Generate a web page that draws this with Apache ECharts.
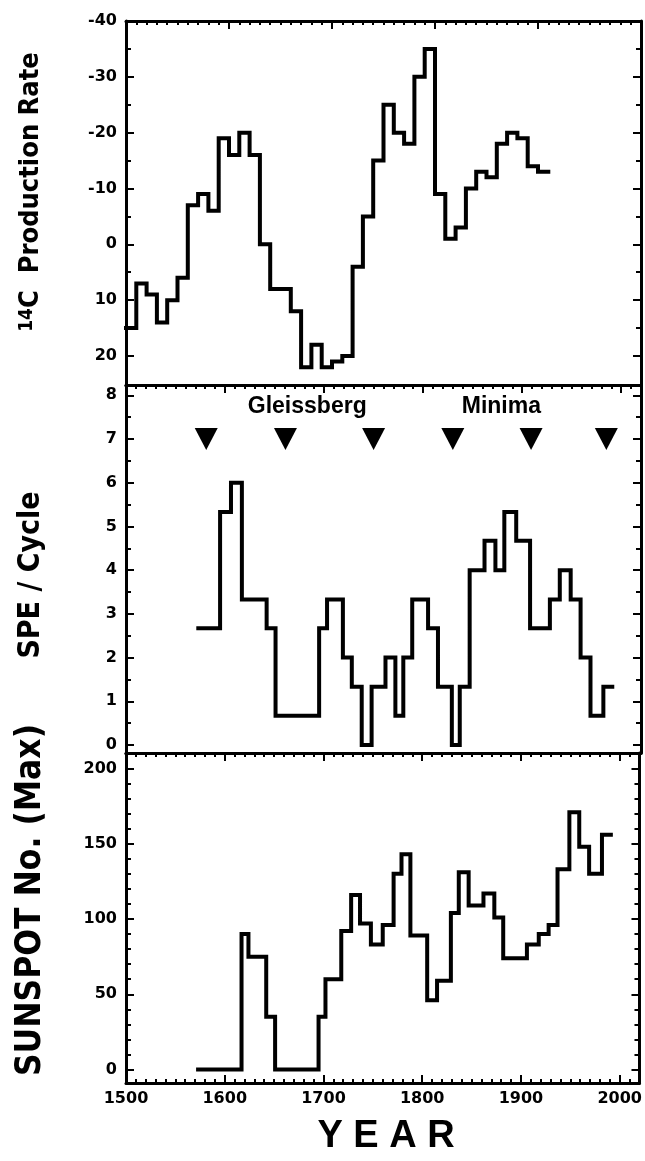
<!DOCTYPE html>
<html><head><meta charset="utf-8">
<script src="https://cdn.jsdelivr.net/npm/echarts@6/dist/echarts.min.js"></script>
<style>html,body{margin:0;padding:0;background:#fff}#c{width:645px;height:1161px}</style>
</head><body><div id="c"></div>
<script>
// ---------------- data ----------------
// Panel 1: 14C production rate, 10-year steps (step start years + final end year)
const c14Edges = [1500,1510,1520,1530,1540,1550,1560,1570,1580,1590,1600,1610,1620,1630,1640,1650,1660,1670,1680,1690,1700,1710,1720,1730,1740,1750,1760,1770,1780,1790,1800,1810,1820,1830,1840,1850,1860,1870,1880,1890,1900,1910];
const c14Values = [15,7,9,14,10,6,-7,-9,-6,-19,-16,-20,-16,0,8,8,12,22,18,22,21,20,4,-5,-15,-25,-20,-18,-30,-35,-9,-1,-3,-10,-13,-12,-18,-20,-19,-14,-13];

// Panel 2: SPE per solar cycle
const speEdges = [1573,1595,1606,1617,1642,1651,1695,1703,1719,1728,1738,1748,1762,1772,1780,1789,1805,1815,1829,1837,1847,1862,1873,1882,1894,1908,1928,1938,1949,1959,1969,1982,1991];
const speValues = [2.67,5.33,6,3.33,2.67,0.67,2.67,3.33,2,1.33,0,1.33,2,0.67,2,3.33,2.67,1.33,0,1.33,4,4.67,4,5.33,4.67,2.67,3.33,4,3.33,2,0.67,1.33];

// Gleissberg minima markers
const gleissbergYears = [1581,1661,1750,1830,1909,1985];
const gleissbergLevel = 7;
const annotationTexts = ['Gleissberg','Minima'];
const annotationYears = [1683,1879];
const annotationLevel = 7.75;

// Panel 3: sunspot number (max) per cycle
const sunEdges = [1573,1617,1624,1642,1651,1695,1702,1718,1728,1737,1748,1760,1771,1779,1788,1805,1815,1829,1837,1847,1862,1873,1882,1906,1918,1928,1937,1949,1959,1969,1982,1991];
const sunValues = [0,90,75,35,0,35,60,92,116,97,83,96,130,143,89,46,59,104,131,109,117,101,74,83,90,96,133,171,148,130,156];

// Tick labels
const xTicks = [1500,1600,1700,1800,1900,2000];
const c14Ticks = [-40,-30,-20,-10,0,10,20];
const speTicks = [0,1,2,3,4,5,6,7,8];
const sunTicks = [0,50,100,150,200];

// Titles
const titleC14 = '{s|14}C  Production Rate';
const titleSpe = 'SPE / Cycle';
const titleSun = 'SUNSPOT No. (Max)';
const titleX = 'Y E A R';

// ---------------- layout ----------------
const GL = 126, GW = 515;
const panels = [
  {top:21,  height:364, xMin:1500, xMax:2000, yMin:-40,   yMax:25.2,  inverse:true,  yTicks:c14Ticks, ySplit:2, bottomTicks:false},
  {top:385, height:368, xMin:1500, xMax:2020, yMin:-0.183,yMax:8.236, inverse:false, yTicks:speTicks, ySplit:2, bottomTicks:false},
  {top:753, height:330, xMin:1500, xMax:2020, yMin:-8.97, yMax:210.3, inverse:false, yTicks:sunTicks, ySplit:5, bottomTicks:true}
];

function minors(ticks, n, lo, hi) {
  const step = (ticks[1] - ticks[0]) / n, t0 = ticks[0], eps = 0.012 * (hi - lo);
  const out = [];
  for (let k = Math.ceil((lo - t0) / step); t0 + k * step <= hi; k++) {
    const v = +(t0 + k * step).toFixed(6);
    if (k % n === 0) continue;
    if (v - lo < eps || hi - v < eps) continue;
    out.push(v);
  }
  return out;
}

const FONT_NUM = 'DejaVu Sans';
const LW = 3;
const lineStyle = {color:'#000', width:LW};
const tickStyle = {color:'#000', width:2};
const off = {show:false};
const lineOn = {show:true, onZero:false, lineStyle:lineStyle};
const lineOff = {show:false, onZero:false};

function tick(vals, len) {
  return {show:true, inside:true, length:len, customValues:vals, lineStyle:tickStyle};
}
function label(vals) {
  return {show:true, customValues:vals, color:'#000', fontFamily:FONT_NUM, fontWeight:'bold', fontSize:16,
          formatter:(v)=>String(v)};
}

const xAxis = [], yAxis = [], grid = [];
panels.forEach((p, i) => {
  grid.push({left:GL, width:GW, top:p.top, height:p.height, containLabel:false});
  const xMinor = minors(xTicks, 10, p.xMin, p.xMax);
  const yMinor = minors(p.yTicks, p.ySplit, p.yMin, p.yMax);
  const xb = {type:'value', gridIndex:i, min:p.xMin, max:p.xMax, splitLine:off, minorTick:off};
  xAxis.push(Object.assign({}, xb, {position:'bottom', axisLine:lineOn,
    axisTick: p.bottomTicks ? tick(xTicks, 8) : off,
    axisLabel: p.bottomTicks ? Object.assign(label(xTicks), {margin:8}) : off}));
  xAxis.push(Object.assign({}, xb, {position:'bottom', axisLine:lineOff,
    axisTick: p.bottomTicks ? tick(xMinor, 4) : off, axisLabel:off}));
  xAxis.push(Object.assign({}, xb, {position:'top', axisLine:lineOn,
    axisTick: tick(xTicks, 8), axisLabel:off}));
  xAxis.push(Object.assign({}, xb, {position:'top', axisLine:lineOff, axisTick: tick(xMinor, 4), axisLabel:off}));

  const yb = {type:'value', gridIndex:i, min:p.yMin, max:p.yMax, inverse:p.inverse, splitLine:off, minorTick:off};
  yAxis.push(Object.assign({}, yb, {position:'left', axisLine:lineOn,
    axisTick: tick(p.yTicks, 8), axisLabel: Object.assign(label(p.yTicks), {margin:9})}));
  yAxis.push(Object.assign({}, yb, {position:'left', axisLine:lineOff, axisTick: tick(yMinor, 5), axisLabel:off}));
  yAxis.push(Object.assign({}, yb, {position:'right', axisLine:lineOn,
    axisTick: tick(p.yTicks, 8), axisLabel:off}));
  yAxis.push(Object.assign({}, yb, {position:'right', axisLine:lineOff, axisTick: tick(yMinor, 5), axisLabel:off}));
});

function stepData(edges, vals) {
  const d = vals.map((v, i) => [edges[i], v]);
  d.push([edges[edges.length - 1], vals[vals.length - 1]]);
  return d;
}
function stepSeries(panel, edges, vals) {
  return {type:'line', step:'end', xAxisIndex:panel*4, yAxisIndex:panel*4, data:stepData(edges, vals),
    symbol:'none', clip:false, silent:true,
    lineStyle:{color:'#000', width:4, join:'miter', cap:'square'}};
}

const series = [
  stepSeries(0, c14Edges, c14Values),
  stepSeries(1, speEdges, speValues),
  stepSeries(2, sunEdges, sunValues),
  {type:'scatter', xAxisIndex:4, yAxisIndex:4, symbol:'triangle', symbolRotate:180, symbolSize:[23,22],
   itemStyle:{color:'#000', opacity:1}, silent:true, data:gleissbergYears.map(y => [y, gleissbergLevel])},
  {type:'scatter', xAxisIndex:4, yAxisIndex:4, symbolSize:0, silent:true, itemStyle:{opacity:1},
   data:annotationTexts.map((t, i) => ({name:t, value:[annotationYears[i], annotationLevel]})),
   label:{show:true, position:'inside', formatter:'{b}', color:'#000', opacity:1, fontFamily:'Liberation Sans',
          fontWeight:'bold', fontSize:23}}
];

const TITLE_FONT = "'Liberation Sans Narrow','DejaVu Sans Condensed','Liberation Sans',sans-serif";
function vTitle(text, x, y, size, extra) {
  return {type:'text', x:x, y:y, rotation:Math.PI/2, silent:true,
    style:Object.assign({text:text, fill:'#000', fontFamily:TITLE_FONT, fontWeight:'bold', fontSize:size,
      align:'center', verticalAlign:'middle'}, extra || {})};
}

const chart = echarts.init(document.getElementById('c'), null, {renderer:'canvas'});
chart.setOption({
  animation:false,
  backgroundColor:'#fff',
  grid, xAxis, yAxis, series,
  graphic:[
    vTitle(titleC14, 31, 192, 27, {rich:{s:{fontSize:19, fontFamily:TITLE_FONT, fontWeight:'bold', verticalAlign:'top'}}}),
    vTitle(titleSpe, 31, 575, 30),
    vTitle(titleSun, 31, 900, 35),
    {type:'text', x:386, y:1137, silent:true,
     style:{text:titleX, fill:'#000', fontFamily:'Liberation Sans', fontWeight:'bold', fontSize:38,
            align:'center', verticalAlign:'middle'}}
  ]
});
</script>
</body></html>
